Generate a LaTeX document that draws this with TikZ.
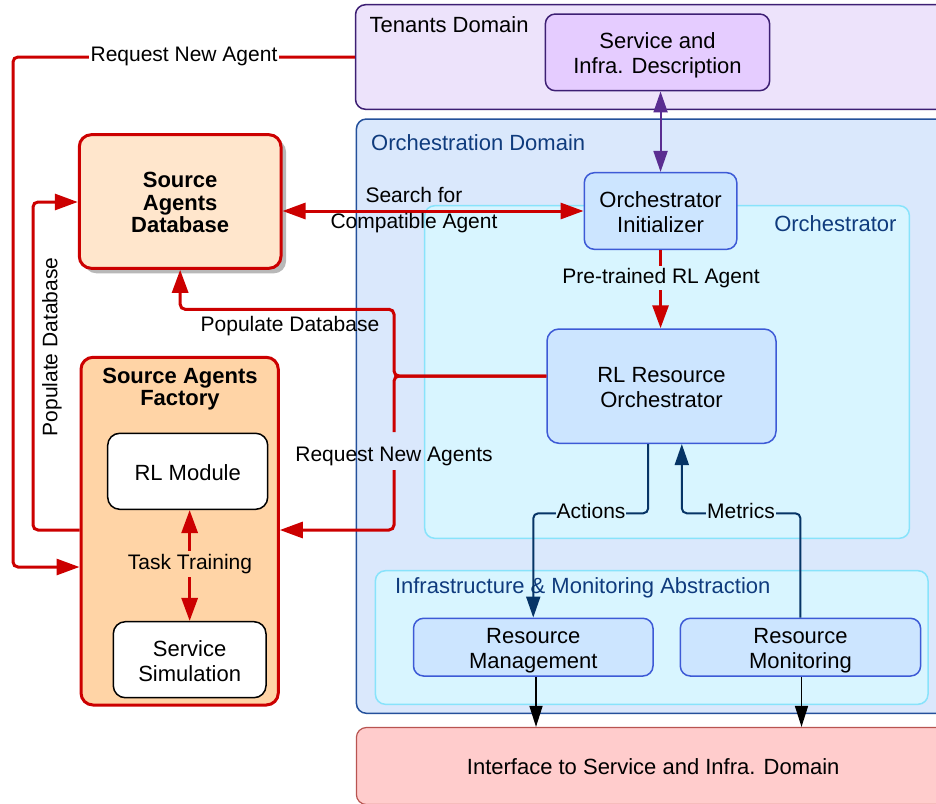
\documentclass[tikz,border=0pt]{standalone}
\usepackage{fontspec}
\setmainfont{Liberation Sans}
\usetikzlibrary{arrows.meta,shadows}
\definecolor{cRed}{HTML}{CC0000}
\definecolor{cTen}{HTML}{EDE3FB}
\definecolor{cTenS}{HTML}{3D1F73}
\definecolor{cSvc}{HTML}{E5CCFF}
\definecolor{cPur}{HTML}{5A2D91}
\definecolor{cDom}{HTML}{DAE8FC}
\definecolor{cDomS}{HTML}{24509B}
\definecolor{cDomT}{HTML}{0F3B7D}
\definecolor{cOrch}{HTML}{D8F5FF}
\definecolor{cOrchS}{HTML}{88E3FB}
\definecolor{cNode}{HTML}{CCE5FF}
\definecolor{cNodeS}{HTML}{3D5AD6}
\definecolor{cIf}{HTML}{FFCCCC}
\definecolor{cIfS}{HTML}{B85450}
\definecolor{cDb}{HTML}{FFE6CC}
\definecolor{cFac}{HTML}{FFD4A6}
\definecolor{cNavy}{HTML}{063466}
\newcommand{\myNodeFont}{\fontsize{22}{25}\selectfont}
\newcommand{\myLabelFont}{\fontsize{21}{25.5}\selectfont}
\newcommand{\myBoldFont}{\fontsize{22}{22.5}\selectfont\bfseries}
\newcommand{\tS}{\rule{0pt}{22.6pt}}
\newcommand{\bS}{\rule[-5pt]{0pt}{5pt}}
\begin{document}
\begin{tikzpicture}[x=1pt,y=-1pt,
  cont/.style={draw, rounded corners=10pt, line width=1.5pt, inner sep=0pt},
  box/.style={draw, rounded corners=10pt, line width=1.5pt, inner sep=0pt, align=center, font=\myNodeFont},
  bluebox/.style={box, draw=cNodeS, fill=cNode},
  redbox/.style={draw=cRed, rounded corners=12pt, line width=3pt, inner sep=0pt, align=center, font=\myBoldFont},
  whitebox/.style={box, draw=black, fill=white, rounded corners=12pt},
  lbl/.style={font=\myLabelFont, inner sep=1.5pt, align=center},
  dlbl/.style={font=\myNodeFont, inner sep=0pt, text=cDomT},
  redline/.style={draw=cRed, line width=3pt, rounded corners=5pt},
  rarr/.style={-{Triangle[length=23pt,width=16pt]}},
  rdbl/.style={{Triangle[length=23pt,width=16pt]}-{Triangle[length=23pt,width=16pt]}},
  navyline/.style={draw=cNavy, line width=2pt, rounded corners=5pt, -{Triangle[length=21pt,width=14pt]}},
  blackline/.style={draw=black, line width=1.5pt, -{Triangle[length=21pt,width=13pt]}},
  purpline/.style={draw=cPur, line width=2pt, {Triangle[length=21pt,width=14pt]}-{Triangle[length=21pt,width=14pt]}}
]
\clip (0,0) rectangle (936,803);
\fill[white] (0,0) rectangle (936,803);

% containers
\node[cont, draw=cTenS, fill=cTen, minimum width=594.5pt, minimum height=104.6pt] (tenants) at (652.75,57) {};
\node[anchor=base west, font=\myNodeFont, inner sep=0pt] (tenlbl) at (369.4,32.3) {Tenants Domain};
\node[cont, draw=cDomS, fill=cDom, minimum width=593.6pt, minimum height=594.3pt] (orchdom) at (653.2,416.15) {};
\node[dlbl, anchor=base west] (domlbl) at (371,150) {Orchestration Domain};
\node[cont, draw=cOrchS, fill=cOrch, minimum width=484.7pt, minimum height=332.6pt] (orch) at (667.05,372) {};
\node[dlbl, anchor=base east] (orchlbl) at (896.7,231.7) {Orchestrator};
\node[cont, draw=cOrchS, fill=cOrch, minimum width=552.6pt, minimum height=133.6pt] (infra) at (651.7,637.5) {};
\node[dlbl, anchor=base west] (infralbl) at (394.8,593.3) {Infrastructure \& Monitoring Abstraction};
\node[box, draw=cIfS, fill=cIf, line width=1.2pt, minimum width=593.6pt, minimum height=77pt] (iface) at (653.2,766) {\tS Interface to Service and Infra. Domain\bS};

% nodes
\node[box, draw=cTenS, fill=cSvc, minimum width=224.3pt, minimum height=76.7pt] (svc) at (657.5,52.35) {\tS Service and\\Infra. Description\bS};
\node[bluebox, minimum width=152.5pt, minimum height=76.6pt] (init) at (660.55,211) {\tS Orchestrator\\Initializer\bS};
\node[bluebox, rounded corners=12pt, minimum width=229pt, minimum height=114.3pt] (rlo) at (661.5,386.15) {\tS RL Resource\\Orchestrator\bS};
\node[bluebox, minimum width=239.5pt, minimum height=57.7pt] (rm) at (533.25,647.15) {\tS Resource\\Management\bS};
\node[bluebox, minimum width=240.3pt, minimum height=57.7pt] (rmon) at (800.45,647.15) {\tS Resource\\Monitoring\bS};

\node[redbox, fill=cDb, minimum width=201.7pt, minimum height=133.6pt,
  drop shadow={shadow xshift=5pt, shadow yshift=-5pt, fill=black!28, opacity=1}] (db) at (180.15,201.5) {\tS Source\\Agents\\Database\bS};
\node[draw=cRed, rounded corners=12pt, line width=3pt, inner sep=0pt, fill=cFac, minimum width=197.3pt, minimum height=347.7pt] (fac) at (179.65,531.15) {};
\node[font=\myBoldFont, align=center, inner sep=0pt] (factitle) at (180,389) {Source Agents\\Factory};
\node[whitebox, minimum width=160pt, minimum height=76pt] (rlm) at (187.7,471.3) {\tS RL Module\bS};
\node[whitebox, minimum width=152.7pt, minimum height=76pt] (sim) at (189.65,659.7) {\tS Service\\Simulation\bS};

% coordinates
\coordinate (rq1) at (13,57);
\coordinate (rq2) at (13,567);
\coordinate (pd1) at (33,530);
\coordinate (pd2) at (33,202);
\coordinate (jn) at (394,376);
\coordinate (up1) at (394,309.3);
\coordinate (gapT) at (394,432);
\coordinate (gapB) at (394,470);
\coordinate (dn1) at (394,530);
\coordinate (act1) at (648.2,513.3);
\coordinate (met1) at (681.8,513.3);
\coordinate (bk1) at (536,0);
\coordinate (bk2) at (801.5,0);

% connectors
\draw[redline, rarr] (tenants.west) -- (rq1) -- (rq2) -- (fac.west |- rq2);
\draw[redline, rarr] (fac.west |- pd1) -- (pd1) -- (pd2) -- (db.west |- pd2);
\draw[redline, rdbl] (db.east |- init.west) -- (init.west);
\draw[redline, rarr] (init.south) -- (init.south |- rlo.north);
\draw[redline, rarr] (rlo.west |- jn) -- (jn) -- (up1) -- (db.south |- up1) -- (db.south);
\draw[redline] (rlo.west |- jn) -- (jn) -- (gapT);
\draw[redline, rarr] (gapB) -- (dn1) -- (fac.east |- dn1);
\draw[navyline] (act1 |- rlo.south) -- (act1) -| (rm.north);
\draw[navyline] (rmon.north) |- (met1) -- (met1 |- rlo.south);
\draw[blackline] (bk1 |- rm.south) -- (bk1 |- iface.north);
\draw[blackline] (bk2 |- rmon.south) -- (bk2 |- iface.north);
\draw[purpline] (init.north |- svc.south) -- (init.north);
\draw[redline, rdbl] (sim.north |- rlm.south) -- (sim.north);

% labels
\node[lbl, fill=white] (l1) at (184,56.5) {Request New Agent};
\node[lbl, rotate=90] (l2) at (52,347) {Populate Database};
\node[lbl, inner sep=0pt] (l3) at (414,210) {Search for\\Compatible Agent};
\node[lbl, fill=cOrch, inner sep=2.5pt] (l4) at (661,278) {Pre-trained RL Agent};
\node[lbl] (l5) at (290,326) {Populate Database};
\node[lbl] (l6) at (394,456) {Request New Agents};
\node[lbl, fill=cOrch, inner sep=1pt] (l7) at (591,511) {Actions};
\node[lbl, fill=cOrch, inner sep=1pt] (l8) at (741,511) {Metrics};
\node[lbl, fill=cFac, inner sep=3pt] (l9) at (190,564) {Task Training};
\end{tikzpicture}
\end{document}
